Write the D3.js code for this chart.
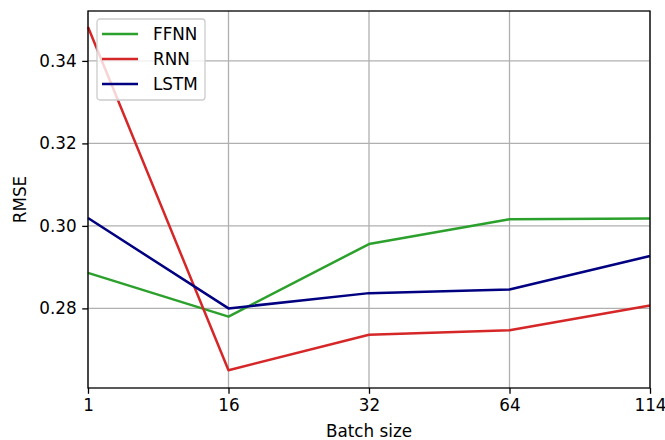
<!DOCTYPE html>
<html>
<head>
<meta charset="utf-8">
<script src="https://cdn.jsdelivr.net/npm/d3@7"></script>
<style>
  body { margin: 0; background: #fff; }
  text { font-family: "DejaVu Sans", sans-serif; }
</style>
</head>
<body>
<div id="chart"></div>
<script>
var svgWidth = 665;
var svgHeight = 440;

var margin = { top: 11, right: 15, bottom: 52, left: 88 };
var width = svgWidth - margin.left - margin.right;
var height = svgHeight - margin.top - margin.bottom;

// data
var batchSizes = ["1", "16", "32", "64", "114"];
var ffnn = [0.2886, 0.2780, 0.2956, 0.3016, 0.3018];
var rnn = [0.3482, 0.2650, 0.2736, 0.2747, 0.2807];
var lstm = [0.3019, 0.2800, 0.2837, 0.2846, 0.2927];
var yTicks = [0.28, 0.30, 0.32, 0.34];

var series = [
  { name: "FFNN", values: ffnn, color: "#2ca02c" },
  { name: "RNN", values: rnn, color: "#d62728" },
  { name: "LSTM", values: lstm, color: "#000080" }
];

var svg = d3.select("#chart")
  .append("svg")
  .attr("width", svgWidth)
  .attr("height", svgHeight);

var chartGroup = svg.append("g")
  .attr("transform", `translate(${margin.left}, ${margin.top})`);

var xScale = d3.scalePoint()
  .domain(batchSizes)
  .range([0, width])
  .padding(0);

var yScale = d3.scaleLinear()
  .domain([0.2607, 0.3521])
  .range([height, 0]);

// grid lines
chartGroup.append("g")
  .selectAll("line.vgrid")
  .data(batchSizes)
  .enter()
  .append("line")
  .attr("x1", d => xScale(d))
  .attr("x2", d => xScale(d))
  .attr("y1", 0)
  .attr("y2", height)
  .attr("stroke", "#b0b0b0")
  .attr("stroke-width", 1.3);

chartGroup.append("g")
  .selectAll("line.hgrid")
  .data(yTicks)
  .enter()
  .append("line")
  .attr("x1", 0)
  .attr("x2", width)
  .attr("y1", d => yScale(d))
  .attr("y2", d => yScale(d))
  .attr("stroke", "#b0b0b0")
  .attr("stroke-width", 1.3);

// lines
var line = d3.line()
  .x((d, i) => xScale(batchSizes[i]))
  .y(d => yScale(d));

chartGroup.selectAll("path.series")
  .data(series)
  .enter()
  .append("path")
  .attr("class", "series")
  .attr("d", d => line(d.values))
  .attr("fill", "none")
  .attr("stroke", d => d.color)
  .attr("stroke-width", 2.5)
  .attr("stroke-linejoin", "round")
  .attr("stroke-linecap", "butt");

// axes
var bottomAxis = d3.axisBottom(xScale).tickSizeOuter(0).tickSize(5.8).tickPadding(5);
var leftAxis = d3.axisLeft(yScale).tickValues(yTicks).tickFormat(d3.format(".2f"))
  .tickSizeOuter(0).tickSize(5.8).tickPadding(5.5);

var xAxis = chartGroup.append("g")
  .attr("transform", `translate(0, ${height})`)
  .call(bottomAxis);

var yAxis = chartGroup.append("g")
  .call(leftAxis);

[xAxis, yAxis].forEach(function(ax) {
  ax.select(".domain").remove();
  ax.selectAll("line").attr("stroke", "#000").attr("stroke-width", 1.3);
  ax.selectAll("text")
    .attr("fill", "#000")
    .style("font-size", "16.8px")
    .style("font-family", "DejaVu Sans, sans-serif");
});

// spines
chartGroup.append("rect")
  .attr("x", 0)
  .attr("y", 0)
  .attr("width", width)
  .attr("height", height)
  .attr("fill", "none")
  .attr("stroke", "#000")
  .attr("stroke-width", 1.3);

// axis labels
chartGroup.append("text")
  .attr("x", width / 2)
  .attr("y", height + 49)
  .attr("text-anchor", "middle")
  .style("font-size", "16.8px")
  .text("Batch size");

chartGroup.append("text")
  .attr("transform", `translate(${-62}, ${height / 2}) rotate(-90)`)
  .attr("text-anchor", "middle")
  .style("font-size", "16.8px")
  .text("RMSE");

// legend
var legend = chartGroup.append("g")
  .attr("transform", "translate(9, 8)");

legend.append("rect")
  .attr("x", 0)
  .attr("y", 0)
  .attr("width", 108)
  .attr("height", 81)
  .attr("rx", 3)
  .attr("fill", "#fff")
  .attr("fill-opacity", 0.8)
  .attr("stroke", "#cccccc")
  .attr("stroke-width", 1.3);

var items = legend.selectAll("g.item")
  .data(series)
  .enter()
  .append("g")
  .attr("class", "item")
  .attr("transform", (d, i) => `translate(0, ${15 + i * 25})`);

items.append("line")
  .attr("x1", 5)
  .attr("x2", 41)
  .attr("y1", 0)
  .attr("y2", 0)
  .attr("stroke", d => d.color)
  .attr("stroke-width", 2.5);

items.append("text")
  .attr("x", 56)
  .attr("y", 0)
  .attr("dy", "0.35em")
  .style("font-size", "16.8px")
  .text(d => d.name);
</script>
</body>
</html>
